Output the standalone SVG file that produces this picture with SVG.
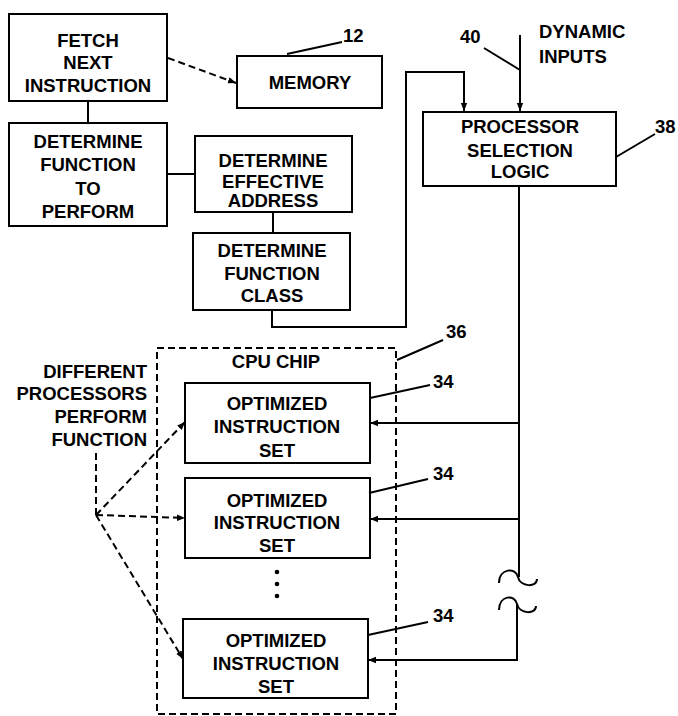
<svg xmlns="http://www.w3.org/2000/svg" width="678" height="716" viewBox="0 0 678 716">
<style>
.box{fill:none;stroke:#000;stroke-width:2}
.ln{fill:none;stroke:#000;stroke-width:2}
.dash{fill:none;stroke:#000;stroke-width:2;stroke-dasharray:7 4}
.t{font-family:"Liberation Sans",Arial,sans-serif;font-weight:bold;font-size:18.5px;fill:#000;text-anchor:middle}
.l{text-anchor:start}
.r{text-anchor:end}
</style>
<defs>
<marker id="ah" viewBox="0 0 10 10" refX="10" refY="5" markerWidth="8" markerHeight="8" markerUnits="userSpaceOnUse" orient="auto">
<path d="M0,1 L10,5 L0,9 Z" fill="#000"/>
</marker>
</defs>
<rect width="678" height="716" fill="#fff"/>

<g id="connectors">
<line class="ln" x1="88" y1="101" x2="88" y2="123"/>
<line class="dash" x1="168" y1="58" x2="236" y2="83" marker-end="url(#ah)"/>
<line class="ln" x1="167" y1="174" x2="195" y2="174"/>
<line class="ln" x1="273" y1="212" x2="273" y2="233"/>
<polyline class="ln" points="272,310 272,327 406,327 406,72 464,72 464,111" marker-end="url(#ah)"/>
<line class="ln" x1="520" y1="35" x2="520" y2="111" marker-end="url(#ah)"/>
<polyline class="ln" points="519,186 519,577"/>
<path class="ln" d="M499,583 C499,568 516,567 518,577 C520,587 537,588 537,579"/>
<path class="ln" d="M499,610 C499,595 515,594 517,604 C519,614 536,615 536,606"/>
<polyline class="ln" points="519,423 370,423" marker-end="url(#ah)"/>
<polyline class="ln" points="519,519 370,519" marker-end="url(#ah)"/>
<polyline class="ln" points="517,604 517,660 368,660" marker-end="url(#ah)"/>
<line class="dash" x1="96" y1="453" x2="96" y2="515"/>
<line class="dash" x1="96" y1="515" x2="185" y2="422" marker-end="url(#ah)"/>
<line class="dash" x1="96" y1="515" x2="185" y2="518" marker-end="url(#ah)"/>
<line class="dash" x1="96" y1="515" x2="183" y2="659" marker-end="url(#ah)"/>
<line class="ln" x1="287" y1="54" x2="342" y2="42"/>
<line class="ln" x1="484" y1="48" x2="520" y2="70"/>
<line class="ln" x1="616" y1="157" x2="655" y2="134"/>
<line class="ln" x1="397" y1="360" x2="443" y2="340"/>
<line class="ln" x1="370" y1="398" x2="430" y2="385"/>
<line class="ln" x1="369" y1="493" x2="428" y2="479"/>
<line class="ln" x1="368" y1="635" x2="428" y2="622"/>
</g>

<g id="fetch">
<rect class="box" x="9" y="14" width="158" height="87"/>
<text class="t" x="88" y="47">FETCH</text>
<text class="t" x="88" y="69">NEXT</text>
<text class="t" x="88" y="92">INSTRUCTION</text>
</g>

<g id="memory">
<rect class="box" x="237" y="56" width="145" height="52"/>
<text class="t" x="310" y="89">MEMORY</text>
<text class="t l" x="343" y="42">12</text>
</g>

<g id="determine-function">
<rect class="box" x="9" y="123" width="158" height="103"/>
<text class="t" x="88" y="148">DETERMINE</text>
<text class="t" x="88" y="171">FUNCTION</text>
<text class="t" x="88" y="195">TO</text>
<text class="t" x="88" y="218">PERFORM</text>
</g>

<g id="effective-address">
<rect class="box" x="195" y="136" width="157" height="76"/>
<text class="t" x="273" y="167">DETERMINE</text>
<text class="t" x="273" y="188">EFFECTIVE</text>
<text class="t" x="273" y="207">ADDRESS</text>
</g>

<g id="function-class">
<rect class="box" x="193" y="233" width="157" height="77"/>
<text class="t" x="272" y="257">DETERMINE</text>
<text class="t" x="272" y="280">FUNCTION</text>
<text class="t" x="272" y="302">CLASS</text>
</g>

<g id="processor-selection">
<rect class="box" x="423" y="112" width="193" height="74"/>
<text class="t" x="520" y="133">PROCESSOR</text>
<text class="t" x="520" y="157">SELECTION</text>
<text class="t" x="520" y="178">LOGIC</text>
<text class="t l" x="655" y="133">38</text>
</g>

<g id="dynamic-inputs">
<text class="t l" x="539" y="38">DYNAMIC</text>
<text class="t l" x="539" y="63">INPUTS</text>
<text class="t l" x="460" y="43">40</text>
</g>

<g id="cpu-chip">
<rect class="dash" x="157" y="348" width="239" height="366"/>
<text class="t" x="276" y="368">CPU  CHIP</text>
<text class="t l" x="446" y="338">36</text>
</g>

<g id="set1">
<rect class="box" x="185" y="383" width="185" height="80"/>
<text class="t" x="277" y="410">OPTIMIZED</text>
<text class="t" x="277" y="433">INSTRUCTION</text>
<text class="t" x="277" y="457">SET</text>
<text class="t l" x="433" y="388">34</text>
</g>

<g id="set2">
<rect class="box" x="185" y="478" width="185" height="80"/>
<text class="t" x="277" y="507">OPTIMIZED</text>
<text class="t" x="277" y="529">INSTRUCTION</text>
<text class="t" x="277" y="552">SET</text>
<text class="t l" x="433" y="480">34</text>
</g>

<g id="dots">
<circle cx="277" cy="572" r="2.3"/>
<circle cx="277" cy="584" r="2.3"/>
<circle cx="277" cy="596" r="2.3"/>
</g>

<g id="set3">
<rect class="box" x="183" y="619" width="185" height="79"/>
<text class="t" x="276" y="647">OPTIMIZED</text>
<text class="t" x="276" y="670">INSTRUCTION</text>
<text class="t" x="276" y="693">SET</text>
<text class="t l" x="433" y="622">34</text>
</g>

<g id="different-processors">
<text class="t r" x="147" y="378">DIFFERENT</text>
<text class="t r" x="147" y="400">PROCESSORS</text>
<text class="t r" x="147" y="423">PERFORM</text>
<text class="t r" x="147" y="446">FUNCTION</text>
</g>
</svg>
